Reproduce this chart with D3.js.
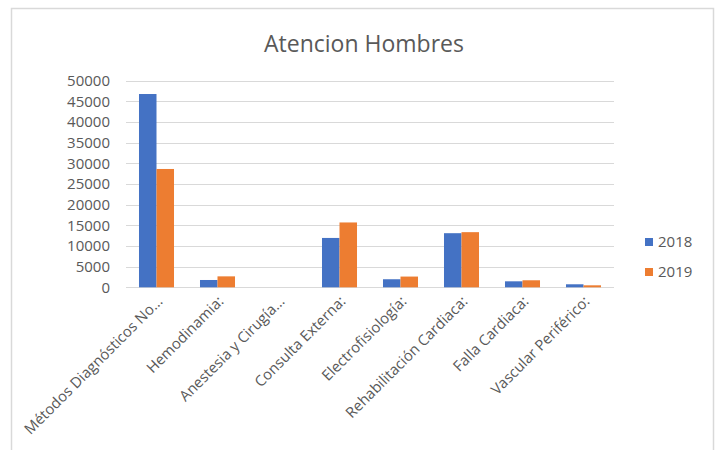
<!DOCTYPE html>
<html>
<head>
<meta charset="utf-8">
<script src="https://cdn.jsdelivr.net/npm/d3@7"></script>
<style>
  body { margin: 0; background: #fff; }
  svg { font-family: "Open Sans", sans-serif; }
</style>
</head>
<body>
<svg id="canvas" width="722" height="450"></svg>
<script>
let categories = ["Métodos Diagnósticos No...", "Hemodinamia:", "Anestesia y Cirugía...", "Consulta Externa:",
    "Electrofisiología:", "Rehabilitación Cardiaca:", "Falla Cardiaca:", "Vascular Periférico:"];
let seriesNames = ["2018", "2019"];
let values2018 = [46800, 1770, 0, 11950, 1950, 13100, 1450, 730];
let values2019 = [28650, 2650, 0, 15700, 2600, 13350, 1700, 480];
let yTicks = [0, 5000, 10000, 15000, 20000, 25000, 30000, 35000, 40000, 45000, 50000];
let colors = ["#4472C4", "#ED7D31"];

let canvas = d3.select("#canvas");

// chart border
canvas.append("rect")
    .attr("x", 11.5).attr("y", 8.5)
    .attr("width", 702).attr("height", 460)
    .attr("fill", "none")
    .attr("stroke", "#d9d9d9")
    .attr("stroke-width", 1.5);

canvas.append("text")
    .attr("x", 364).attr("y", 52)
    .attr("text-anchor", "middle")
    .attr("font-size", 23)
    .attr("fill", "#595959")
    .text("Atencion Hombres");

let plotLeft = 126, plotRight = 614, plotTop = 80.8, plotBottom = 287.3;

let x0 = d3.scaleBand()
    .domain(categories)
    .range([plotLeft, plotRight])
    .paddingInner(0.426)
    .paddingOuter(0.213);

let x1 = d3.scaleBand()
    .domain(seriesNames)
    .range([0, x0.bandwidth()]);

let y = d3.scaleLinear()
    .domain([0, 50000])
    .range([plotBottom, plotTop]);

// gridlines
canvas.append("g")
    .selectAll("line")
    .data(yTicks)
    .enter()
    .append("line")
    .attr("x1", plotLeft).attr("x2", plotRight)
    .attr("y1", (d) => Math.round(y(d)) + 0.5)
    .attr("y2", (d) => Math.round(y(d)) + 0.5)
    .attr("stroke", "#d9d9d9")
    .attr("stroke-width", 1);

// y axis labels
let yAxis = d3.axisLeft(y).tickValues(yTicks).tickSize(0).tickPadding(0).tickFormat(d3.format("d"));
let yg = canvas.append("g")
    .attr("transform", "translate(110,0)")
    .call(yAxis);
yg.select(".domain").remove();
yg.selectAll("text")
    .attr("font-family", "Open Sans, sans-serif")
    .attr("font-size", 15)
    .attr("fill", "#595959");

// bars
let rows = categories.map((c, i) => ({ cat: c, vals: [values2018[i], values2019[i]] }));
let groups = canvas.append("g")
    .selectAll("g")
    .data(rows)
    .enter()
    .append("g")
    .attr("transform", (d) => "translate(" + x0(d.cat) + ",0)");

groups.selectAll("rect")
    .data((d) => d.vals.map((v, j) => ({ key: seriesNames[j], v: v, j: j })))
    .enter()
    .append("rect")
    .attr("x", (d) => x1(d.key))
    .attr("y", (d) => y(d.v))
    .attr("width", x1.bandwidth())
    .attr("height", (d) => plotBottom - y(d.v))
    .attr("fill", (d) => colors[d.j]);

// x axis labels
let xAxis = d3.axisBottom(x0).tickSize(0).tickPadding(0);
let xg = canvas.append("g")
    .attr("transform", "translate(0," + plotBottom + ")")
    .call(xAxis);
xg.select(".domain").remove();
xg.selectAll("text")
    .attr("font-family", "Open Sans, sans-serif")
    .attr("font-size", 14.8)
    .attr("fill", "#595959")
    .attr("text-anchor", "end")
    .attr("dy", null)
    .attr("y", 0)
    .attr("transform", "translate(7,15) rotate(-45)");

// legend
let legend = canvas.append("g")
    .selectAll("g")
    .data(seriesNames)
    .enter()
    .append("g")
    .attr("transform", (d, i) => "translate(645," + (238 + i * 30) + ")");

legend.append("rect")
    .attr("width", 8).attr("height", 8)
    .attr("fill", (d, i) => colors[i]);

legend.append("text")
    .attr("x", 13).attr("y", 9)
    .attr("font-size", 15)
    .attr("fill", "#595959")
    .text((d) => d);
</script>
</body>
</html>
